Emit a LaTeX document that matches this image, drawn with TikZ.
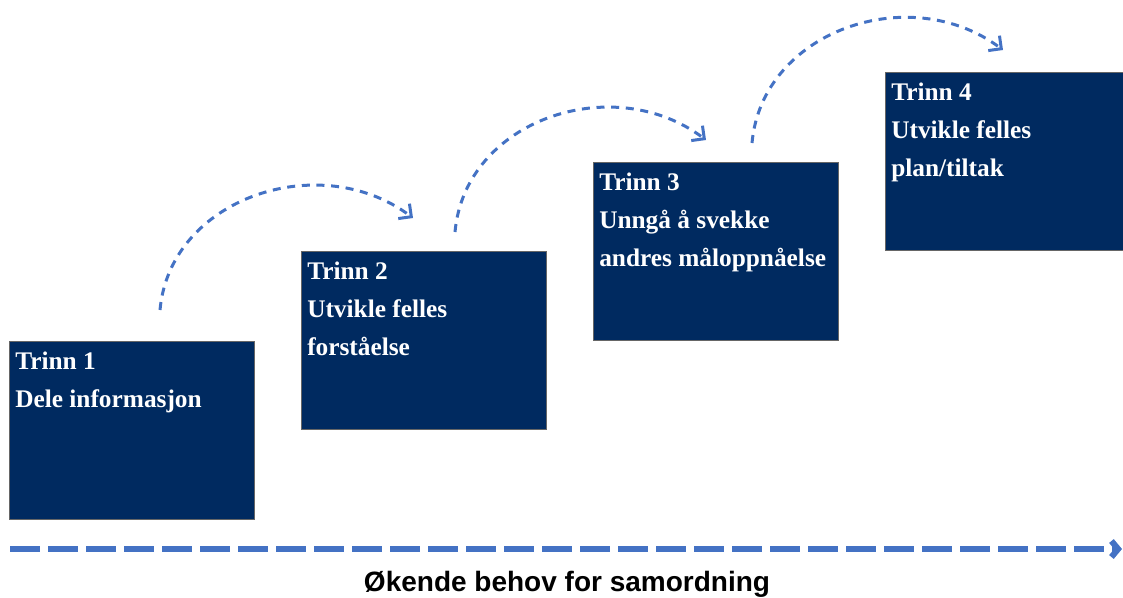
\documentclass[tikz,border=0pt]{standalone}
\usepackage{fontspec}
\setmainfont{Liberation Serif}
\setsansfont{Liberation Sans}
\usetikzlibrary{arrows.meta,calc}
\definecolor{marine}{HTML}{002A60}
\definecolor{blaa}{HTML}{4472C4}

\begin{document}
\begin{tikzpicture}[x=0.75pt,y=-0.75pt,
  trinn/.style={draw=gray!80!black,line width=0.75pt,fill=marine,anchor=north west,
    inner sep=0pt,minimum width=183.75pt,minimum height=133.5pt},
  tekst/.style={anchor=north west,inner sep=0pt,text=white,align=left,
    font=\fontsize{19}{28.5}\selectfont\bfseries},
  bue/.style={blaa,line width=2.25pt,dash pattern=on 6pt off 5pt,
    -{Straight Barb[length=7pt,width=14pt]}},
  pil/.style={blaa,line width=4.5pt,dash pattern=on 22.5pt off 6pt,
    -{Straight Barb[length=5pt,width=12pt]}}]%
\useasboundingbox (0,0) rectangle (1123,597);
\clip (0,0) rectangle (1123,597);
% trinn
\node[trinn] (t1) at (9,341) {};
\node[trinn] (t2) at (301,251) {};
\node[trinn] (t3) at (593,162) {};
\node[trinn] (t4) at (885,72) {};
\node[tekst] (x1) at ($(t1.north west)+(6,11)$) {Trinn 1\\Dele informasjon};
\node[tekst] (x2) at ($(t2.north west)+(6,11)$) {Trinn 2\\Utvikle felles\\forståelse};
\node[tekst] (x3) at ($(t3.north west)+(6,11)$) {Trinn 3\\Unngå å svekke\\andres måloppnåelse};
\node[tekst] (x4) at ($(t4.north west)+(6,11)$) {Trinn 4\\Utvikle felles\\plan/tiltak};
% buer
\coordinate (b1) at (160,310); \coordinate (e1) at (413,218);
\coordinate (b2) at (455,232); \coordinate (e2) at (706,140);
\coordinate (b3) at (752,143); \coordinate (e3) at (1003,50);
\draw[bue] (b1) .. controls +(10,-112) and +(-93,-70) .. (e1);
\draw[bue] (b2) .. controls +(10,-112) and +(-93,-70) .. (e2);
\draw[bue] (b3) .. controls +(10,-112) and +(-93,-70) .. (e3);
% akse
\coordinate (a0) at (10,549); \coordinate (a1) at (1122,549);
\draw[pil] (a0) -- (a1);
\node[anchor=base,inner sep=0pt,font=\sffamily\bfseries\fontsize{21}{25}\selectfont]
  (akse) at (567,591) {Økende behov for samordning};
\end{tikzpicture}
\end{document}
